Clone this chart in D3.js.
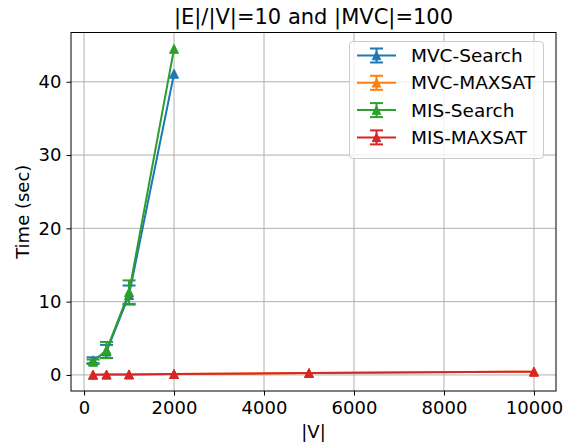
<!DOCTYPE html>
<html><head><meta charset="utf-8">
<script src="https://cdn.jsdelivr.net/npm/d3@7"></script>
<style>body{margin:0;background:#fff}svg{display:block}text{font-family:"DejaVu Sans",sans-serif;fill:#000}</style>
</head><body><svg id="c" width="563" height="446"></svg>
<script>
const title = "|E|/|V|=10 and |MVC|=100";
const xLabel = "|V|";
const yLabel = "Time (sec)";
const allSizes = [200, 500, 1000, 2000, 5000, 10000];
const searchSizes = [200, 500, 1000, 2000];
const mvcSearch = [2.0, 3.2, 10.9, 41.1];
const mvcSearchErr = [0.4, 0.9, 1.3, 0];
const mvcMaxsat = [0.03, 0.05, 0.07, 0.13, 0.26, 0.45];
const mvcMaxsatErr = [0, 0, 0, 0, 0, 0];
const misSearch = [1.8, 3.4, 11.3, 44.5];
const misSearchErr = [0.3, 1.1, 1.6, 0];
const misMaxsat = [0.03, 0.05, 0.07, 0.13, 0.26, 0.45];
const misMaxsatErr = [0, 0, 0, 0, 0, 0];
const seriesNames = ["MVC-Search", "MVC-MAXSAT", "MIS-Search", "MIS-MAXSAT"];
const colors = ["#1f77b4", "#ff7f0e", "#2ca02c", "#d62728"];
const xTicks = [0, 2000, 4000, 6000, 8000, 10000];
const yTicks = [0, 10, 20, 30, 40];

const series = [
  {name: seriesNames[0], xs: searchSizes, ys: mvcSearch, es: mvcSearchErr, color: colors[0]},
  {name: seriesNames[1], xs: allSizes, ys: mvcMaxsat, es: mvcMaxsatErr, color: colors[1]},
  {name: seriesNames[2], xs: searchSizes, ys: misSearch, es: misSearchErr, color: colors[2]},
  {name: seriesNames[3], xs: allSizes, ys: misMaxsat, es: misMaxsatErr, color: colors[3]},
];

const L = 71, R = 556, T = 32.5, B = 391;
const svg = d3.select("#c");

const xmin = d3.min(allSizes), xmax = d3.max(allSizes);
const xm = (xmax - xmin) * 0.05;
const x = d3.scaleLinear().domain([xmin - xm, xmax + xm]).range([L, R]);
let ylo = Infinity, yhi = -Infinity;
series.forEach(s => s.ys.forEach((v, i) => { ylo = Math.min(ylo, v - s.es[i]); yhi = Math.max(yhi, v + s.es[i]); }));
const ym = (yhi - ylo) * 0.05;
const y = d3.scaleLinear().domain([ylo - ym, yhi + ym]).range([B, T]);

// grid
const g = svg.append("g");
g.selectAll(".gx").data(xTicks).join("line")
  .attr("x1", d => x(d)).attr("x2", d => x(d)).attr("y1", T).attr("y2", B)
  .attr("stroke", "#b0b0b0").attr("stroke-width", 1);
g.selectAll(".gy").data(yTicks).join("line")
  .attr("x1", L).attr("x2", R).attr("y1", d => y(d)).attr("y2", d => y(d))
  .attr("stroke", "#b0b0b0").attr("stroke-width", 1);

// axes
const xAxis = d3.axisBottom(x).tickValues(xTicks).tickSize(4.5).tickPadding(5).tickFormat(d3.format("d"));
const yAxis = d3.axisLeft(y).tickValues(yTicks).tickSize(4.5).tickPadding(5).tickFormat(d3.format("d"));
const ax = svg.append("g").attr("transform", `translate(0,${B})`).call(xAxis);
const ay = svg.append("g").attr("transform", `translate(${L},0)`).call(yAxis);
[ax, ay].forEach(a => {
  a.select(".domain").remove();
  a.selectAll(".tick line").attr("stroke", "#000").attr("stroke-width", 1);
  a.selectAll(".tick text").attr("font-size", 18).attr("font-family", "DejaVu Sans").attr("fill", "#000");
});
ax.selectAll(".tick text").attr("dy", "0.75em");

// plot clip
svg.append("clipPath").attr("id", "clip").append("rect").attr("x", L).attr("y", T).attr("width", R - L).attr("height", B - T);
const plot = svg.append("g").attr("clip-path", "url(#clip)");

const tri = (w) => `M0,${-w/2}L${-w/2},${w/2}L${w/2},${w/2}Z`;
const cap = 6.5;
const line = d3.line().x(d => x(d[0])).y(d => y(d[1]));

series.forEach(s => {
  const pts = s.xs.map((v, i) => [v, s.ys[i], s.es[i]]);
  const sg = plot.append("g");
  const withErr = pts.filter(d => d[2] > 0);
  const eb = sg.selectAll(".eb").data(withErr).join("g");
  eb.append("line").attr("x1", d => x(d[0])).attr("x2", d => x(d[0])).attr("y1", d => y(d[1] - d[2])).attr("y2", d => y(d[1] + d[2])).attr("stroke", s.color).attr("stroke-width", 2);
  eb.append("line").attr("x1", d => x(d[0]) - cap).attr("x2", d => x(d[0]) + cap).attr("y1", d => y(d[1] - d[2])).attr("y2", d => y(d[1] - d[2])).attr("stroke", s.color).attr("stroke-width", 2);
  eb.append("line").attr("x1", d => x(d[0]) - cap).attr("x2", d => x(d[0]) + cap).attr("y1", d => y(d[1] + d[2])).attr("y2", d => y(d[1] + d[2])).attr("stroke", s.color).attr("stroke-width", 2);
  sg.append("path").attr("d", line(pts)).attr("fill", "none").attr("stroke", s.color).attr("stroke-width", 2);
  sg.selectAll(".m").data(pts).join("path").attr("d", tri(9))
    .attr("transform", d => `translate(${x(d[0])},${y(d[1])})`)
    .attr("fill", s.color).attr("stroke", s.color).attr("stroke-width", 1);
});

// spines
svg.append("rect").attr("x", L).attr("y", T).attr("width", R - L).attr("height", B - T)
  .attr("fill", "none").attr("stroke", "#000").attr("stroke-width", 1);

// legend
const lg = svg.append("g");
lg.append("rect").attr("x", 349.5).attr("y", 41.5).attr("width", 194).attr("height", 117).attr("rx", 3.5)
  .attr("fill", "#fff").attr("fill-opacity", 0.8).attr("stroke", "#cccccc").attr("stroke-width", 1);
series.forEach((s, i) => {
  const cy = 55.5 + i * 27.3;
  const e = lg.append("g").attr("transform", `translate(0,${cy})`);
  e.append("line").attr("x1", 357).attr("x2", 396).attr("y1", 0).attr("y2", 0).attr("stroke", s.color).attr("stroke-width", 2);
  e.append("line").attr("x1", 376.5).attr("x2", 376.5).attr("y1", -7).attr("y2", 7).attr("stroke", s.color).attr("stroke-width", 2);
  e.append("line").attr("x1", 376.5 - cap).attr("x2", 376.5 + cap).attr("y1", -7).attr("y2", -7).attr("stroke", s.color).attr("stroke-width", 2);
  e.append("line").attr("x1", 376.5 - cap).attr("x2", 376.5 + cap).attr("y1", 7).attr("y2", 7).attr("stroke", s.color).attr("stroke-width", 2);
  e.append("path").attr("d", tri(8.5)).attr("transform", "translate(376.5,0)").attr("fill", s.color).attr("stroke", s.color).attr("stroke-width", 1);
  e.append("text").attr("x", 411).attr("y", 0).attr("dy", "0.36em").attr("font-size", 18.5).text(s.name);
});

// labels
svg.append("text").attr("x", (L + R) / 2).attr("y", 24).attr("text-anchor", "middle").attr("font-size", 21).text(title);
svg.append("text").attr("x", (L + R) / 2).attr("y", 438).attr("text-anchor", "middle").attr("font-size", 18).text(xLabel);
svg.append("text").attr("transform", `translate(29,${(T + B) / 2}) rotate(-90)`).attr("text-anchor", "middle").attr("font-size", 18).text(yLabel);
</script></body></html>
